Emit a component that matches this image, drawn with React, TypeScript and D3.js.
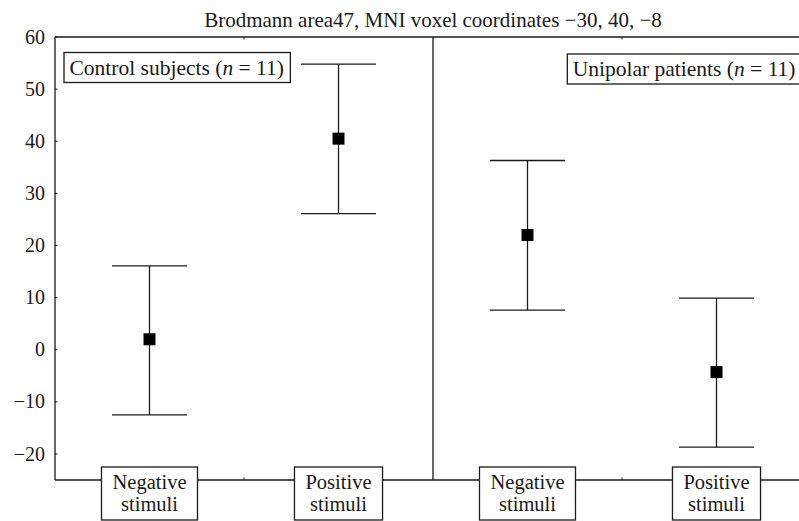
import React, { useEffect, useRef } from "react";
import * as d3 from "d3";

// groups (panels) and stimulus categories
const groups = ["Control subjects", "Unipolar patients"];
const groupN = [11, 11];
const stimuli = ["Negative stimuli", "Positive stimuli"];

// mean and 95% CI, per group, per stimulus
const means = [
  [2.0, 40.5],
  [22.0, -4.3],
];
const upper = [
  [16.1, 54.8],
  [36.3, 9.9],
];
const lower = [
  [-12.5, 26.1],
  [7.6, -18.7],
];
const yTicks = [-20, -10, 0, 10, 20, 30, 40, 50, 60];

const title = "Brodmann area47, MNI voxel coordinates \u221230, 40, \u22128";

const W = 799;
const H = 521;
const FONT = "Liberation Serif, serif";

const App: React.FC = () => {
  const ref = useRef<SVGSVGElement>(null);

  useEffect(() => {
    document.body.style.margin = "0";
    if (!ref.current) return;
    const svg = d3.select(ref.current);
    svg.selectAll("*").remove();

    const left = 55;
    const right = 811; // right panel runs past the picture edge
    const top = 37;
    const bottom = 480;

    const y = d3.scaleLinear().domain([-25, 60]).range([bottom, top]);
    const panel = d3.scaleBand().domain(groups).range([left, right]).padding(0);
    const pw = panel.bandwidth();
    const xs = d3.scalePoint().domain(stimuli).range([0, pw]).padding(0.5);

    const ink = "#1a1a1a";

    const txt = (sel: d3.Selection<any, unknown, null, undefined>, size: number) =>
      sel.append("text")
        .style("font-family", FONT)
        .style("font-size", `${size}px`)
        .attr("fill", ink);

    // frame: top, left, bottom
    svg.append("line").attr("x1", left).attr("x2", right).attr("y1", top).attr("y2", top)
      .attr("stroke", ink).attr("stroke-width", 1.3);
    svg.append("line").attr("x1", left).attr("x2", right).attr("y1", bottom).attr("y2", bottom)
      .attr("stroke", ink).attr("stroke-width", 1.3);
    svg.append("line").attr("x1", left).attr("x2", left).attr("y1", top).attr("y2", bottom)
      .attr("stroke", ink).attr("stroke-width", 1.3);

    // title
    txt(svg, 21)
      .attr("x", (left + right) / 2)
      .attr("y", 27)
      .attr("text-anchor", "middle")
      .text(title);

    // y axis labels and inward ticks
    const ya = svg.append("g");
    yTicks.forEach((t) => {
      ya.append("line").attr("x1", left).attr("x2", left + 2.5).attr("y1", y(t)).attr("y2", y(t))
        .attr("stroke", ink).attr("stroke-width", 1);
      txt(ya, 20)
        .attr("x", 45)
        .attr("y", y(t))
        .attr("dy", "0.33em")
        .attr("text-anchor", "end")
        .text(t < 0 ? `\u2212${Math.abs(t)}` : `${t}`);
    });

    groups.forEach((g, gi) => {
      const x0 = panel(g)!;
      const gEl = svg.append("g").attr("transform", `translate(${x0},0)`);

      // panel divider
      if (gi > 0) {
        gEl.append("line").attr("x1", 0).attr("x2", 0).attr("y1", top).attr("y2", bottom)
          .attr("stroke", ink).attr("stroke-width", 1.3);
      }
      // centre ticks top/bottom
      gEl.append("line").attr("x1", pw / 2).attr("x2", pw / 2).attr("y1", top).attr("y2", top + 2.5)
        .attr("stroke", ink).attr("stroke-width", 1);
      gEl.append("line").attr("x1", pw / 2).attr("x2", pw / 2).attr("y1", bottom).attr("y2", bottom - 2.5)
        .attr("stroke", ink).attr("stroke-width", 1);

      // error bars
      stimuli.forEach((s, si) => {
        const cx = xs(s)!;
        const capW = 75;
        gEl.append("line").attr("x1", cx).attr("x2", cx)
          .attr("y1", y(upper[gi][si])).attr("y2", y(lower[gi][si]))
          .attr("stroke", ink).attr("stroke-width", 1.3);
        [upper[gi][si], lower[gi][si]].forEach((v) => {
          gEl.append("line").attr("x1", cx - capW / 2).attr("x2", cx + capW / 2)
            .attr("y1", y(v)).attr("y2", y(v))
            .attr("stroke", ink).attr("stroke-width", 1.3);
        });
        gEl.append("rect")
          .attr("x", cx - 6).attr("y", y(means[gi][si]) - 6)
          .attr("width", 12).attr("height", 12)
          .attr("fill", "#000");

        // category label box
        const [l1, l2] = s.split(" ");
        const lab = gEl.append("g");
        const rect = lab.append("rect").attr("fill", "#fff").attr("stroke", ink).attr("stroke-width", 1.3);
        const t1 = txt(lab, 20.5).attr("x", cx).attr("y", 489).attr("text-anchor", "middle").text(l1);
        const t2 = txt(lab, 20.5).attr("x", cx).attr("y", 511).attr("text-anchor", "middle").text(l2);
        const tw = Math.max(
          (t1.node() as SVGTextElement).getComputedTextLength(),
          (t2.node() as SVGTextElement).getComputedTextLength()
        );
        const bw = tw + 22;
        rect.attr("x", cx - bw / 2).attr("y", 467).attr("width", bw).attr("height", 53);
      });

      // group legend box
      const lg = gEl.append("g");
      const lrect = lg.append("rect").attr("fill", "#fff").attr("stroke", ink).attr("stroke-width", 1.3);
      const lt = txt(lg, 21.5);
      lt.append("tspan").text(`${g} (`);
      lt.append("tspan").attr("font-style", "italic").text("n");
      lt.append("tspan").text(` = ${groupN[gi]})`);
      const tw = (lt.node() as SVGTextElement).getComputedTextLength();
      const bw = tw + 12;
      const bx = gi === 0 ? 9 : pw - 9 - bw;
      const by = gi === 0 ? 52.5 : 54;
      lrect.attr("x", bx).attr("y", by).attr("width", bw).attr("height", 30);
      lt.attr("x", bx + 5.5).attr("y", by + 22);
    });
  }, []);

  return (
    <svg
      ref={ref}
      width={W}
      height={H}
      style={{ display: "block", background: "#fff" }}
    />
  );
};

export default App;
